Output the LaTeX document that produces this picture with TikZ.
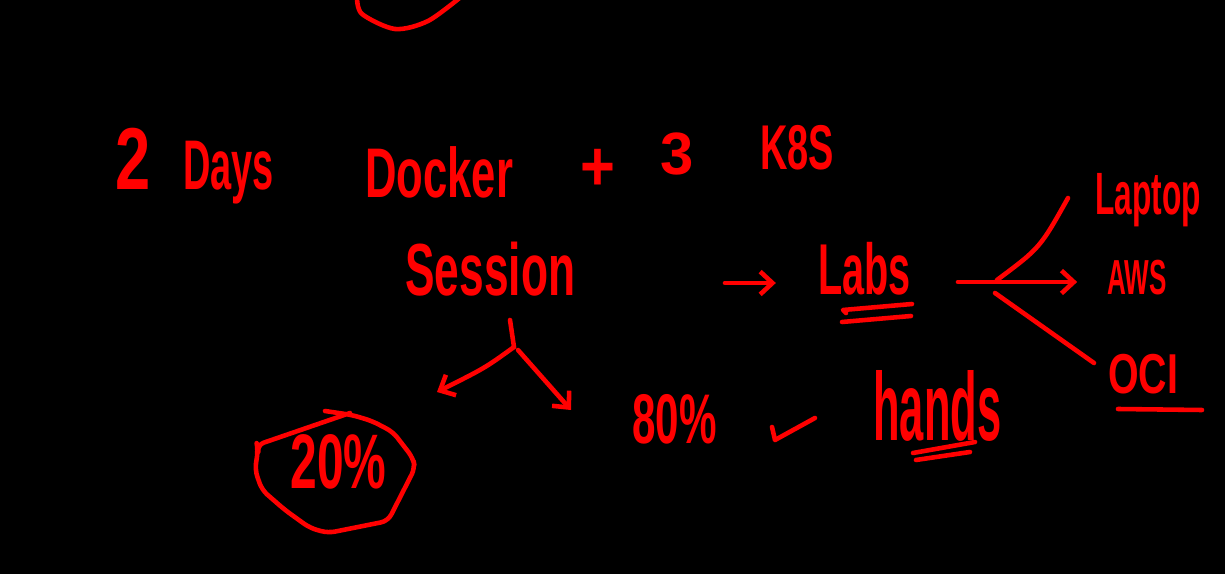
\documentclass[tikz,border=0pt]{standalone}
\usepackage{fontspec}
\usepackage{graphicx}
\setmainfont{Liberation Sans}
\usetikzlibrary{arrows.meta}
\definecolor{ink}{RGB}{255,0,0}
\newcommand\hwtext[3]{{\fontsize{#1}{#1}\selectfont\bfseries\scalebox{#2}[1]{#3}}}
\begin{document}
\begin{tikzpicture}[x=0.02cm,y=-0.02cm,
  hw/.style={text=ink,inner sep=0pt,anchor=base west},
  pen/.style={draw=ink,line width=2.6pt,line cap=round,line join=round},
  arr/.style={pen,-{Straight Barb[length=7pt,width=13pt,line width=2.6pt]}}]
\fill[black] (0,0) rectangle (1225,574);
\useasboundingbox (0,0) rectangle (1225,574);

% top arc fragment
\draw[pen] plot[smooth] coordinates {(357,-3) (362,14) (395,29) (428,21) (462,-4)};

% first line
\node[hw] (two) at (115,190) {\hwtext{50}{0.72}{2}};
\node[hw] (days) at (183,190) {\hwtext{40}{0.54}{Days}};
\node[hw] (docker) at (365,198) {\hwtext{40}{0.62}{Docker}};
\node[hw,anchor=center] (plus) at (598,170) {\hwtext{40}{0.85}{+}};
\node[hw] (three) at (660,175) {\hwtext{34}{1.0}{3}};
\node[hw] (k8s) at (760,170) {\hwtext{36}{0.6}{K8S}};

% second line
\node[hw] (session) at (405,296) {\hwtext{42}{0.6}{Session}};
\node[hw] (labs) at (818,295) {\hwtext{41}{0.55}{Labs}};
\node[hw] (laptop) at (1095,215) {\hwtext{34}{0.53}{Laptop}};
\node[hw] (aws) at (1107,295) {\hwtext{28}{0.53}{AWS}};
\node[hw] (oci) at (1108,394) {\hwtext{32}{0.7}{OCI}};

% third line
\node[hw] (twenty) at (290,488) {\hwtext{44}{0.62}{20\%}};
\node[hw] (eighty) at (632,443) {\hwtext{40}{0.6}{80\%}};
\node[hw] (hands) at (873,440) {\hwtext{55}{0.45}{hands}};

% coordinates for free ends
\coordinate (sTop) at (510,320);
\coordinate (sFork) at (514,347);
\coordinate (sRight) at (518,350);
\coordinate (arrStart) at (725,283);
\coordinate (labsOut) at (958,282);
\coordinate (forkUp) at (997,280);
\coordinate (forkDown) at (995,293);

% session fork
\draw[pen] (sTop) -- (sFork);
\draw[arr] (sFork) .. controls (485,368) .. (437,392);
\draw[arr] (sRight) -- (571,410);

% arrow to labs
\draw[arr,shorten >=24pt] (arrStart) -- (labs.west |- arrStart);

% labs branches
\draw[arr,shorten >=17pt] (labsOut) -- (aws.west |- labsOut);
\draw[pen] (forkUp) .. controls (1040,248) .. (1068,198);
\draw[pen] (forkDown) -- (1094,363);

% underlines
\draw[pen] (846,313) -- (843,310) -- (912,304);
\draw[pen] (842,322) -- (911,316);
\draw[pen] (913,453) -- (975,442);
\draw[pen] (916,460) -- (970,452);
\draw[pen] (1118,409) -- (1202,410);

% check mark
\draw[pen] (772,427) -- (775,440) -- (815,418);

% outline round 20%
\draw[pen,rounded corners=4pt] (325,411) -- (352,415) -- (372,421) -- (393,432)
  -- (413,458) -- (415,468) -- (388,521) -- (328,533) -- (310,528)
  -- (285,510) -- (262,490) -- (255,470) -- (258,450) -- (257,445) -- (350,413);
\end{tikzpicture}
\end{document}
